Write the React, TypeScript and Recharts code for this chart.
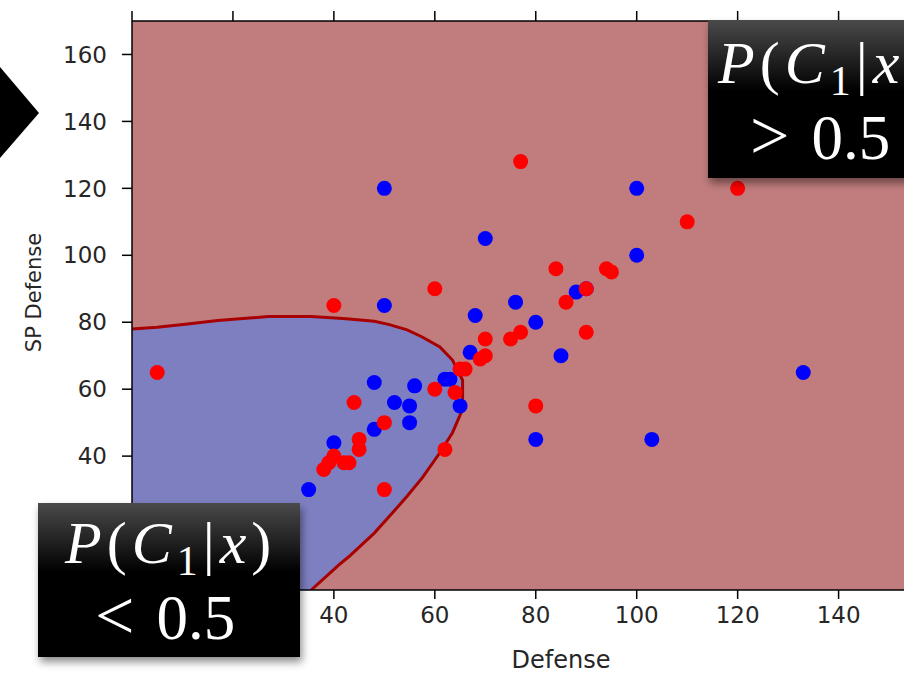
import { ComposedChart, Area, Line, Scatter, XAxis, YAxis, CartesianGrid } from 'recharts';

const X_TICKS = [0, 20, 40, 60, 80, 100, 120, 140, 160];
const Y_TICKS = [0, 20, 40, 60, 80, 100, 120, 140, 160];

// P(C1|x) = 0.5 contour
const BOUNDARY_X = [0, 5, 11, 17, 27, 35.5, 41, 43, 48, 51, 54.5, 57.5, 61, 63.5, 65.5];
const BOUNDARY_UPPER = [78, 78.5, 79.5, 80.5, 81.7, 81.7, 81.2, 81, 80.3, 79.3, 77.7, 75.6, 72.6, 68.7, 62.7];
const BOUNDARY_LOWER = [0, 0, 0, 0, 0, 0, 7.5, 10, 17, 22, 28, 33.5, 41, 47, 54];

// Defense / SP Defense of the two classes
const BLUE_DEF = [50, 100, 70, 100, 50, 76, 68, 80, 88, 90, 67, 85, 133, 62, 63, 48, 56, 52, 55, 65, 55, 48, 40, 80, 103, 35];
const BLUE_SPDEF = [120, 120, 105, 100, 85, 86, 82, 80, 89, 90, 71, 70, 65, 63, 63, 62, 61, 56, 55, 55, 50, 48, 44, 45, 45, 30];
const RED_DEF = [5, 40, 60, 77, 84, 94, 95, 90, 86, 110, 120, 90, 70, 75, 77, 69, 70, 65, 66, 60, 64, 80, 62, 44, 50, 45, 45, 40, 39, 38, 42, 43, 50];
const RED_SPDEF = [65, 85, 90, 128, 96, 96, 95, 90, 86, 110, 120, 77, 75, 75, 77, 69, 70, 66, 66, 60, 59, 55, 42, 56, 50, 45, 42, 40, 38, 36, 38, 38, 30];

const regionData = BOUNDARY_X.map((x, i) => ({ x, band: [BOUNDARY_LOWER[i], BOUNDARY_UPPER[i]] }));
const lowStart = BOUNDARY_LOWER.lastIndexOf(0);
const outline = [
  ...BOUNDARY_X.map((x, i) => ({ x, y: BOUNDARY_UPPER[i] })),
  ...BOUNDARY_X.map((x, i) => ({ x, y: BOUNDARY_LOWER[i] })).slice(lowStart).reverse(),
];
const bluePts = BLUE_DEF.map((x, i) => ({ x, y: BLUE_SPDEF[i] }));
const redPts = RED_DEF.map((x, i) => ({ x, y: RED_SPDEF[i] }));

const dot = (color: string) => (p: any) => <circle cx={p.cx} cy={p.cy} r={7.5} fill={color} />;

const axisLine = { stroke: '#000', strokeWidth: 1.5 };
const tickStyle = { fill: '#262626', fontSize: 23, fontFamily: 'DejaVu Sans' };

const mathFont = { fontFamily: '"Liberation Serif", serif', fontSize: 60, lineHeight: '60px', color: '#fff', whiteSpace: 'nowrap' as const };
const boxStyle = {
  position: 'absolute' as const,
  background: 'linear-gradient(to bottom, #4a4a4a 0%, #000 45%)',
  boxShadow: '2px 5px 8px rgba(0,0,0,0.45)',
};

function Formula() {
  return (
    <span style={{ letterSpacing: 5 }}>
      <i>P</i>(<i>C</i>
      <span style={{ fontSize: 42, verticalAlign: -12 }}>1</span>|<i>x</i>)
    </span>
  );
}

function Threshold({ sign }: { sign: string }) {
  return (
    <span>
      <span style={{ fontSize: 70 }}>{sign}</span>
      <span style={{ marginLeft: 22, fontSize: 63 }}>0.5</span>
    </span>
  );
}

export default function App() {
  return (
    <div style={{ position: 'absolute', left: 0, top: 0, width: 904, height: 677, overflow: 'hidden', background: '#fff' }}>
      <ComposedChart width={1000} height={677} data={regionData} margin={{ top: 0, right: 10, bottom: 0, left: 0 }}>
        <CartesianGrid horizontal={false} vertical={false} fill="#c17d7d" stroke="none" />
        <XAxis
          type="number"
          dataKey="x"
          domain={[0, 170]}
          ticks={X_TICKS}
          allowDataOverflow
          height={87}
          axisLine={axisLine}
          tickLine={axisLine}
          tickSize={9}
          tickMargin={8}
          tick={tickStyle}
          label={{ value: 'Defense', position: 'insideBottom', offset: 9, fill: '#262626', fontSize: 24, fontFamily: 'DejaVu Sans' }}
        />
        <XAxis
          xAxisId="top"
          orientation="top"
          type="number"
          dataKey="x"
          domain={[0, 170]}
          ticks={X_TICKS}
          allowDataOverflow
          height={21}
          axisLine={axisLine}
          tickLine={axisLine}
          tickSize={10}
          tick={{ fill: 'none', fontSize: 1 }}
        />
        <YAxis
          type="number"
          dataKey="y"
          domain={[0, 170]}
          ticks={Y_TICKS}
          allowDataOverflow
          width={132}
          axisLine={axisLine}
          tickLine={axisLine}
          tickSize={10}
          tickMargin={15}
          tick={tickStyle}
          label={{
            content: ({ viewBox }: any) => {
              const cy = viewBox.y + viewBox.height / 2 - 13;
              return (
                <text x={41} y={cy} transform={`rotate(-90, 41, ${cy})`} textAnchor="middle" fill="#262626" fontSize={21} fontFamily="DejaVu Sans">
                  SP Defense
                </text>
              );
            },
          }}
        />
        <Area type="linear" dataKey="band" stroke="none" fill="#7d7fc1" fillOpacity={1} isAnimationActive={false} />
        <Line data={outline} type="linear" dataKey="y" stroke="#a80000" strokeWidth={3} dot={false} isAnimationActive={false} />
        <Scatter data={bluePts} dataKey="y" shape={dot('#0000ff')} isAnimationActive={false} />
        <Scatter data={redPts} dataKey="y" shape={dot('#ff0000')} isAnimationActive={false} />
      </ComposedChart>

      <svg style={{ position: 'absolute', left: 0, top: 0 }} width={50} height={200}>
        <polygon points="0,67 39,113 0,158" fill="#000" />
      </svg>

      <div style={{ ...boxStyle, left: 708, top: 20, width: 240, height: 158 }} />
      <div style={{ ...mathFont, position: 'absolute', left: 718, top: 33 }}>
        <Formula />
      </div>
      <div style={{ ...mathFont, position: 'absolute', left: 750, top: 106 }}>
        <Threshold sign="&gt;" />
      </div>

      <div style={{ ...boxStyle, left: 38, top: 503, width: 262, height: 154 }} />
      <div style={{ ...mathFont, position: 'absolute', left: 65, top: 513 }}>
        <Formula />
      </div>
      <div style={{ ...mathFont, position: 'absolute', left: 95, top: 586 }}>
        <Threshold sign="&lt;" />
      </div>
    </div>
  );
}
